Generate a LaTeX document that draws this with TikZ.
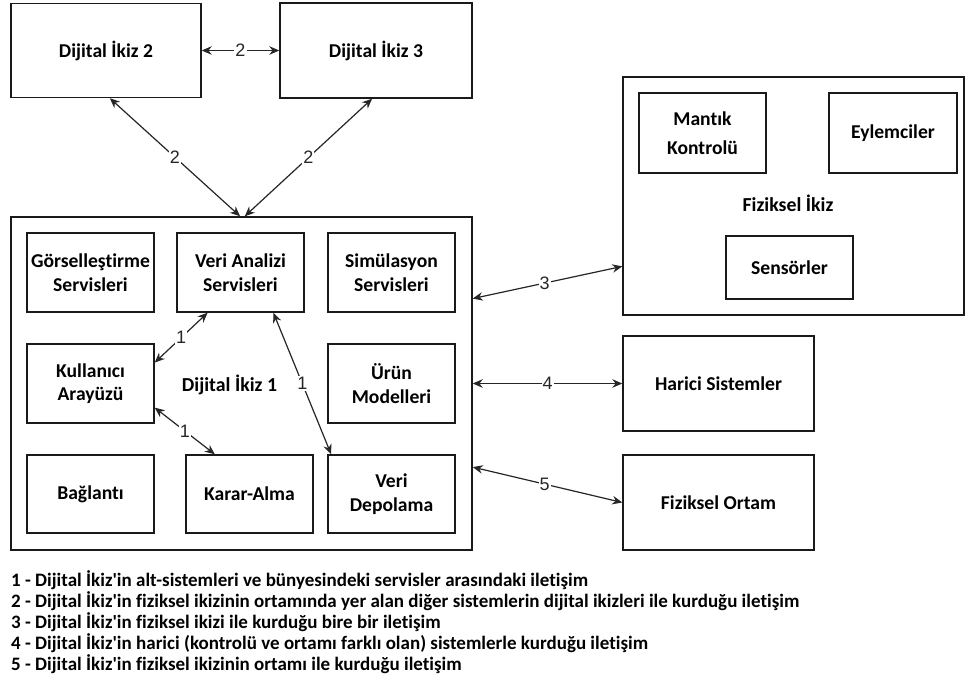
\documentclass[tikz,border=0pt]{standalone}
\usepackage{fontspec}
\setmainfont{Carlito}[Ligatures={NoCommon}]
\newfontfamily\lblfont{Liberation Sans}
\usetikzlibrary{arrows.meta,calc}

\definecolor{edgeink}{HTML}{262626}
\definecolor{boxink}{HTML}{1A1A1A}

\tikzset{
  box/.style={draw=boxink, line width=1.4pt, align=center, inner sep=0pt,
    font=\bfseries\fontsize{19.6}{23.5}\selectfont},
  plain/.style={align=center, inner sep=0pt, font=\bfseries\fontsize{19.8}{23.5}\selectfont},
  link/.style={draw=edgeink, line width=1.2pt,
    {Stealth[length=10pt,width=8.5pt]}-{Stealth[length=10pt,width=8.5pt]}},
  lab/.style={fill=white, inner sep=1pt, text=edgeink,
    font=\lblfont\fontsize{18}{18}\selectfont},
  legend/.style={anchor=base west, inner sep=0pt,
    font=\bfseries\fontsize{19}{21}\selectfont}
}

\newcommand{\apos}{\textquotesingle}

\begin{document}
\begin{tikzpicture}[x=1pt,y=-1pt]
\useasboundingbox (0,0) rectangle (965,685);
\fill[white] (0,0) rectangle (965,685);

% other digital twins
\node[box, minimum width=190, minimum height=94] (di2) at (106,50.5) {Dijital İkiz 2};
\node[box, minimum width=192, minimum height=95] (di3) at (376,50.5) {Dijital İkiz 3};

% digital twin 1 and its subsystems
\node[box, minimum width=461, minimum height=333] (di1) at (241.5,383.5) {};
\node[plain] (di1lab) at (229.5,385) {Dijital İkiz 1};
\node[box, minimum width=127, minimum height=79] (gor) at (90.5,272.5) {Görselleştirme\\Servisleri};
\node[box, minimum width=127, minimum height=79] (va)  at (240.5,272.5) {Veri Analizi\\Servisleri};
\node[box, minimum width=127, minimum height=79] (sim) at (391.5,272.5) {Simülasyon\\Servisleri};
\node[box, minimum width=127, minimum height=79] (ku)  at (90.5,383.5) {Kullanıcı\\Arayüzü};
\node[box, minimum width=127, minimum height=79] (urun) at (391.5,383.5) {Ürün\\Modelleri};
\node[box, minimum width=127, minimum height=78] (bag) at (90.5,494) {Bağlantı};
\node[box, minimum width=127, minimum height=78] (karar) at (249.5,494) {Karar-Alma};
\node[box, minimum width=127, minimum height=78] (vd) at (391.5,494) {Veri\\Depolama};

% physical twin and its parts
\node[box, minimum width=341, minimum height=238] (fi) at (793.5,196) {};
\node[plain] (filab) at (788,203) {Fiziksel İkiz};
\node[box, minimum width=127, minimum height=80,
      font=\bfseries\fontsize{19.6}{29}\selectfont] (mk) at (702.5,133) {Mantık\\Kontrolü};
\node[box, minimum width=128, minimum height=80] (ey) at (893,133) {Eylemciler};
\node[box, minimum width=127, minimum height=63] (sen) at (789.5,267.5) {Sensörler};

% external systems and physical environment
\node[box, minimum width=191, minimum height=95] (har) at (718.5,383.5) {Harici Sistemler};
\node[box, minimum width=191, minimum height=95] (fo) at (718.5,502.5) {Fiziksel Ortam};

% communication type 2
\draw[link] (di2.east) -- node[lab] {2} (di3.west);
\draw[link] ($(di2.south west)!0.52!(di2.south east)$) -- node[lab] {2}
            ($(di1.north west)!0.497!(di1.north east)$);
\draw[link] ($(di3.south west)!0.48!(di3.south east)$) -- node[lab] {2}
            ($(di1.north west)!0.507!(di1.north east)$);

% communication type 1
\draw[link] ($(ku.north east)!0.24!(ku.south east)$) -- node[lab] {1}
            ($(va.south west)!0.244!(va.south east)$);
\draw[link] ($(ku.north east)!0.80!(ku.south east)$) -- node[lab] {1}
            ($(karar.north west)!0.23!(karar.north east)$);
\draw[link] ($(va.south west)!0.756!(va.south east)$) -- node[lab] {1}
            ($(vd.north west)!0.03!(vd.north east)$);

% communication types 3, 4, 5
\draw[link] ($(di1.north east)!0.246!(di1.south east)$) -- node[lab, pos=0.48] {3}
            ($(fi.north west)!0.794!(fi.south west)$);
\draw[link] (di1.east) -- node[lab] {4} (har.west);
\draw[link] ($(di1.north east)!0.75!(di1.south east)$) -- node[lab, pos=0.48] {5}
            (fo.west);

% legend
\node[legend] (leg1) at (11,586.5) {1 - Dijital İkiz\apos in alt-sistemleri ve bünyesindeki servisler arasındaki iletişim};
\node[legend] (leg2) at (11,607.5) {2 - Dijital İkiz\apos in fiziksel ikizinin ortamında yer alan diğer sistemlerin dijital ikizleri ile kurduğu iletişim};
\node[legend] (leg3) at (11,628.5) {3 - Dijital İkiz\apos in fiziksel ikizi ile kurduğu bire bir iletişim};
\node[legend] (leg4) at (11,649.5) {4 - Dijital İkiz\apos in harici (kontrolü ve ortamı farklı olan) sistemlerle kurduğu iletişim};
\node[legend] (leg5) at (11,670.5) {5 - Dijital İkiz\apos in fiziksel ikizinin ortamı ile kurduğu iletişim};
\end{tikzpicture}
\end{document}
